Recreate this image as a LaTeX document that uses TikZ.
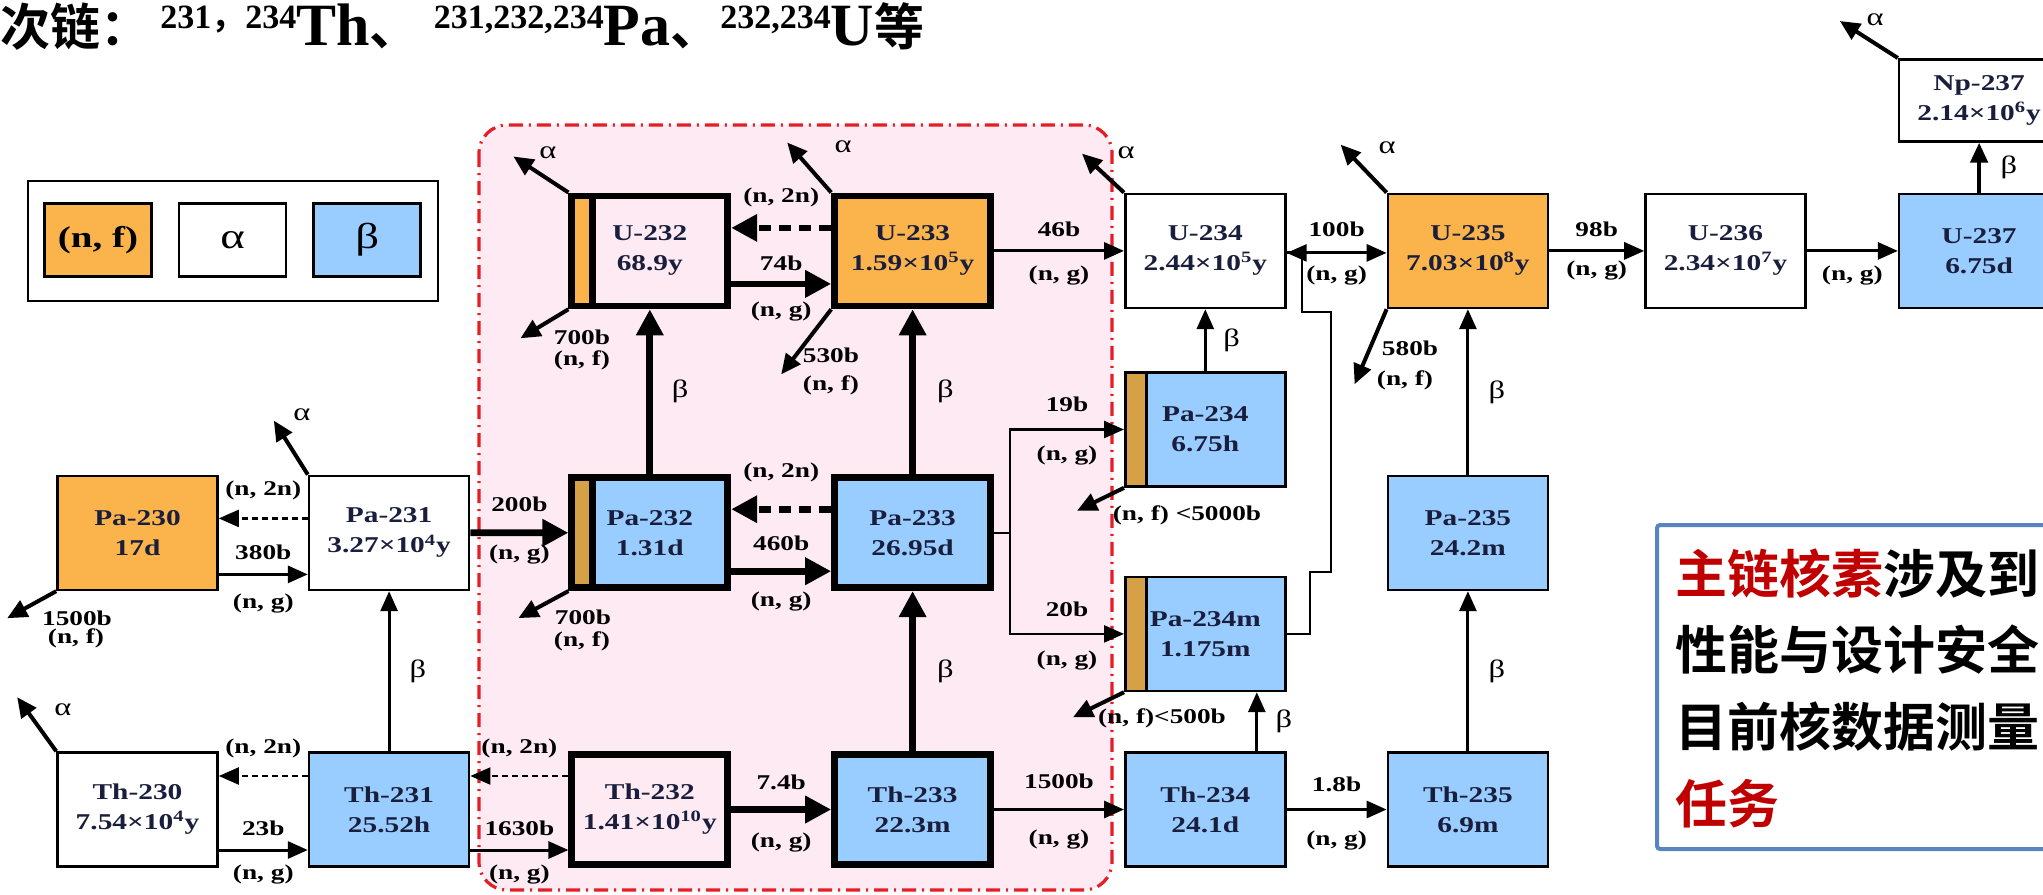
\documentclass[tikz,border=0pt]{standalone}
\usepackage{tikz}
\usepackage{xcolor}
\usepackage{fontspec}
\setmainfont{Liberation Serif}
\newfontfamily\wideserif{Liberation Serif}[FakeStretch=1.3]
\newfontfamily\cjkfont{Noto Sans CJK SC}[BoldFont={Noto Sans CJK SC Bold}]
\definecolor{nfOrange}{RGB}{250,180,75}
\definecolor{nfStrip}{RGB}{214,160,70}
\definecolor{betaBlue}{RGB}{153,204,255}
\definecolor{nucText}{RGB}{25,30,60}
\definecolor{zonePink}{RGB}{253,234,242}
\definecolor{zoneRed}{RGB}{228,30,38}
\definecolor{noteBlue}{RGB}{88,132,192}
\definecolor{noteRed}{RGB}{192,0,0}
\usetikzlibrary{arrows.meta,positioning}
\newcommand{\nucsup}[1]{\raisebox{8.5pt}{\fontsize{17}{17}\selectfont #1}}

\begin{document}
\begin{tikzpicture}[x=0.5pt, y=-0.5pt,
  nuc/.style={draw, line width=1.3pt, minimum width=80pt, minimum height=57pt,
              align=center, inner sep=1pt, text=nucText,
              font=\wideserif\bfseries\fontsize{11.3}{15}\selectfont},
  heavy/.style={line width=3.4pt, minimum width=78pt, minimum height=55pt},
  fis/.style={fill=nfOrange},
  bet/.style={fill=betaBlue},
  alp/.style={fill=white},
  strip/.style 2 args={path picture={
      \fill[#1] (path picture bounding box.north west)
        rectangle ([xshift=10.5pt]path picture bounding box.south west);
      \draw[line width=#2] ([xshift=10.5pt]path picture bounding box.north west)
        -- ([xshift=10.5pt]path picture bounding box.south west);}},
  rx/.style={-{Triangle[length=10pt, width=8.5pt]}, line width=1.5pt},
  rxh/.style={-{Triangle[length=13pt, width=13pt]}, line width=3.4pt},
  n2n/.style={rx, line width=1.1pt, dash pattern=on 3pt off 2pt},
  n2nh/.style={rxh, dash pattern=on 6pt off 4pt},
  decay/.style={-{Triangle[length=10pt, width=9pt]}, line width=2pt},
  lbl/.style={font=\wideserif\bfseries\fontsize{10.5}{12}\selectfont, inner sep=1pt},
  grk/.style={font=\wideserif\fontsize{12.5}{12.5}\selectfont, inner sep=1pt},
  key/.style={draw, line width=1.3pt, minimum width=53.5pt, minimum height=36.5pt},
  notetxt/.style={anchor=base west, inner sep=0, font=\cjkfont\bfseries\fontsize{26}{26}\selectfont}
]
  \useasboundingbox (0,0) rectangle (2043,894);
  \clip (0,0) rectangle (2043,894);

  % main chain zone
  \draw[zoneRed, fill=zonePink, line width=1.6pt, rounded corners=14pt,
        dash pattern=on 7pt off 3pt on 1pt off 3pt] (479,125) rectangle (1112,890);

  % legend
  \node[draw, line width=1pt, minimum width=205pt, minimum height=60pt] (legend) at (233,240.5) {};
  \node[key, fill=nfOrange, font=\wideserif\bfseries\fontsize{15}{15}\selectfont] (keynf) at (98,240) {(n, f)};
  \node[key, font=\wideserif\fontsize{18}{18}\selectfont, right=12.5pt of keynf] (keyal) {α};
  \node[key, fill=betaBlue, font=\wideserif\fontsize{18}{18}\selectfont, right=12.5pt of keyal] (keybt) {β};

  % nuclides
  \node[nuc, alp] (th230) at (137.5,809.5) {Th-230\\7.54×10\textsuperscript{4}y};
  \node[nuc, bet, right=44.5pt of th230] (th231) {Th-231\\25.52h};
  \node[nuc, heavy, right=49pt of th231] (th232) {Th-232\\1.41×10\textsuperscript{10}y};
  \node[nuc, heavy, bet, right=50pt of th232] (th233) {Th-233\\22.3m};
  \node[nuc, bet, right=65pt of th233] (th234) {Th-234\\24.1d};
  \node[nuc, bet, right=50pt of th234] (th235) {Th-235\\6.9m};

  \node[nuc, fis, above=80pt of th230] (pa230) {Pa-230\\17d};
  \node[nuc, alp, above=80pt of th231] (pa231) {Pa-231\\3.27×10\textsuperscript{4}y};
  \node[nuc, heavy, bet, strip={nfStrip}{3.4pt}, above=80pt of th232] (pa232) {Pa-232\\1.31d};
  \node[nuc, heavy, bet, above=80pt of th233] (pa233) {Pa-233\\26.95d};
  \node[nuc, bet, above=80pt of th235] (pa235) {Pa-235\\24.2m};
  \node[nuc, bet, strip={nfStrip}{1.3pt}, above=29.5pt of th234] (pa234m) {Pa-234m\\1.175m};

  \node[nuc, heavy, strip={nfOrange}{3.4pt}, above=82.5pt of pa232] (u232) {U-232\\68.9y};
  \node[nuc, heavy, fis, above=82.5pt of pa233] (u233) {U-233\\1.59×10\textsuperscript{5}y};
  \node[nuc, alp, right=65pt of u233] (u234) {U-234\\2.44×10\textsuperscript{5}y};
  \node[nuc, fis, right=50pt of u234] (u235) {U-235\\7.03×10\textsuperscript{8}y};
  \node[nuc, alp, right=47.5pt of u235] (u236) {U-236\\2.34×10\textsuperscript{7}y};
  \node[nuc, bet, right=45.5pt of u236] (u237) {U-237\\6.75d};
  \node[nuc, alp, minimum height=41pt, above=25pt of u237] (np237) {Np-237\\2.14×10\textsuperscript{6}y};
  \node[nuc, bet, strip={nfStrip}{1.3pt}, below=31pt of u234] (pa234) {Pa-234\\6.75h};

  % Th row
  \draw[n2n] ([yshift=16.75pt]th231.west) -- node[lbl, above=7.5pt] {(n, 2n)} ([yshift=16.75pt]th230.east);
  \draw[rx] ([yshift=-20.25pt]th230.east) -- node[lbl, above=5.5pt] {23b} node[lbl, below=5.5pt] {(n, g)} ([yshift=-20.25pt]th231.west);
  \draw[n2n] ([yshift=16.75pt]th232.west) -- node[lbl, above=7.5pt] {(n, 2n)} ([yshift=16.75pt]th231.east);
  \draw[rx] ([yshift=-20.25pt]th231.east) -- node[lbl, above=5.5pt] {1630b} node[lbl, below=5.5pt] {(n, g)} ([yshift=-20.25pt]th232.west);
  \draw[rxh] (th232) -- node[lbl, above=7pt] {7.4b} node[lbl, below=9pt] {(n, g)} (th233);
  \draw[rx] (th233) -- node[lbl, above=8.5pt] {1500b} node[lbl, below=8.5pt] {(n, g)} (th234);
  \draw[rx] (th234) -- node[lbl, above=7pt] {1.8b} node[lbl, below=9pt] {(n, g)} (th235);

  % Pa row
  \draw[n2n] ([yshift=7.25pt]pa231.west) -- node[lbl, above=7.5pt] {(n, 2n)} ([yshift=7.25pt]pa230.east);
  \draw[rx] ([yshift=-20.75pt]pa230.east) -- node[lbl, above=5.5pt] {380b} node[lbl, below=8pt] {(n, g)} ([yshift=-20.75pt]pa231.west);
  \draw[rxh] (pa231) -- node[lbl, above=8pt] {200b} node[lbl, below=3.5pt] {(n, g)} (pa232);
  \draw[n2nh] ([yshift=11.75pt]pa233.west) -- node[lbl, above=11pt] {(n, 2n)} ([yshift=11.75pt]pa232.east);
  \draw[rxh] ([yshift=-19.25pt]pa232.east) -- node[lbl, above=7.5pt] {460b} node[lbl, below=7.5pt] {(n, g)} ([yshift=-19.25pt]pa233.west);
  \coordinate (fork) at ([xshift=8pt]pa233.east);
  \draw[rx, line width=1.2pt] (pa233.east) -- (fork) |- node[lbl, pos=0.75, above=7.5pt] {19b} node[lbl, pos=0.75, below=6.5pt] {(n, g)} (pa234.west);
  \draw[rx, line width=1.2pt] (fork) |- node[lbl, pos=0.75, above=7pt] {20b} node[lbl, pos=0.75, below=7pt] {(n, g)} (pa234m.west);

  % U row
  \draw[n2nh] ([yshift=11.5pt]u233.west) -- node[lbl, above=8pt] {(n, 2n)} ([yshift=11.5pt]u232.east);
  \draw[rxh] ([yshift=-16.5pt]u232.east) -- node[lbl, above=4pt] {74b} node[lbl, below=6.5pt] {(n, g)} ([yshift=-16.5pt]u233.west);
  \draw[rx] (u233) -- node[lbl, above=5.5pt] {46b} node[lbl, below=6pt] {(n, g)} (u234);
  \draw[rx] ([yshift=-1pt]u234.east) -- node[lbl, above=6.5pt] {100b} node[lbl, below=5pt] {(n, g)} ([yshift=-1pt]u235.west);
  \draw[rx] (u235) -- node[lbl, above=5.5pt] {98b} node[lbl, below=3.5pt] {(n, g)} (u236);
  \draw[rx] (u236) -- node[lbl, below=6pt] {(n, g)} (u237);

  % Pa-234m back to U-234
  \coordinate (jog1) at (1310,572);
  \coordinate (jog2) at (1331,312);
  \coordinate (jog3) at (1302,312);
  \draw[rx, line width=1.1pt] (pa234m.east) -| (jog1) -| (jog2) -| (jog3) |- ([yshift=-1pt]u234.east);

  % beta decays
  \draw[rx] (th231) -- node[grk, right=8.5pt] {β} (pa231);
  \draw[rxh] (pa232) -- node[grk, right=8.3pt] {β} (u232);
  \draw[rxh] (pa233) -- node[grk, right=9.6pt] {β} (u233);
  \draw[rxh] (th233) -- node[grk, right=9.6pt] {β} (pa233);
  \draw[rx] (pa234) -- node[grk, right=7.3pt] {β} (u234);
  \draw[rx] ([xshift=25.75pt]th234.north) -- node[grk, right=7.6pt] {β} ([xshift=25.75pt]pa234m.south);
  \draw[rx] (pa235) -- node[grk, right=8.6pt] {β} (u235);
  \draw[rx] (th235) -- node[grk, right=8.6pt] {β} (pa235);
  \draw[rx, line width=2.2pt] (u237) -- node[grk, right=8.6pt] {β} (np237);

  % alpha decays
  \coordinate (th230a) at ([shift={(-19.5pt,27pt)}]th230.north west);
  \coordinate (pa231a) at ([shift={(-17pt,27pt)}]pa231.north west);
  \coordinate (u232a) at ([shift={(-27.5pt,18pt)}]u232.north west);
  \coordinate (u233a) at ([shift={(-22pt,25pt)}]u233.north west);
  \coordinate (u234a) at ([shift={(-21pt,19.5pt)}]u234.north west);
  \coordinate (u235a) at ([shift={(-23pt,24pt)}]u235.north west);
  \coordinate (np237a) at ([shift={(-29pt,18.5pt)}]np237.north west);
  \draw[decay] (th230.north west) -- (th230a);
  \draw[decay] (pa231.north west) -- (pa231a);
  \draw[decay] (u232.north west) -- (u232a);
  \draw[decay] (u233.north west) -- (u233a);
  \draw[decay] (u234.north west) -- (u234a);
  \draw[decay] (u235.north west) -- (u235a);
  \draw[decay] (np237.north west) -- (np237a);
  \node[grk] (th230al) at (63,710) {α};
  \node[grk] (pa231al) at (302,415) {α};
  \node[grk] (u232al) at (548,153) {α};
  \node[grk] (u233al) at (843,147) {α};
  \node[grk] (u234al) at (1126,153) {α};
  \node[grk] (u235al) at (1387,148) {α};
  \node[grk] (np237al) at (1875,20) {α};

  % fission
  \coordinate (pa230f) at ([shift={(-24.5pt,-13.5pt)}]pa230.south west);
  \coordinate (u232f) at ([shift={(-24pt,-14.5pt)}]u232.south west);
  \coordinate (pa232f) at ([shift={(-25pt,-13.5pt)}]pa232.south west);
  \coordinate (u233f) at ([shift={(-25pt,-32.5pt)}]u233.south west);
  \coordinate (u235f) at ([shift={(-16pt,-37.5pt)}]u235.south west);
  \coordinate (pa234f) at ([shift={(-23.5pt,-11.5pt)}]pa234.south west);
  \coordinate (pa234mf) at ([shift={(-25.5pt,-12.5pt)}]pa234m.south west);
  \draw[decay] (pa230.south west) -- (pa230f);
  \draw[decay] (u232.south west) -- (u232f);
  \draw[decay] (pa232.south west) -- (pa232f);
  \draw[decay] (u233.south west) -- (u233f);
  \draw[decay] (u235.south west) -- (u235f);
  \draw[decay] (pa234.south west) -- (pa234f);
  \draw[decay] (pa234m.south west) -- (pa234mf);
  \node[lbl] (pa230b) at (77,618) {1500b};
  \node[lbl] (pa230r) at (76,638) {(n, f)};
  \node[lbl] (u232b) at (582,337) {700b};
  \node[lbl] (u232r) at (582,360) {(n, f)};
  \node[lbl] (pa232b) at (583,617) {700b};
  \node[lbl] (pa232r) at (582,641) {(n, f)};
  \node[lbl] (u233b) at (831,355) {530b};
  \node[lbl] (u233r) at (831,385) {(n, f)};
  \node[lbl] (u235b) at (1410,348) {580b};
  \node[lbl] (u235r) at (1405,380) {(n, f)};
  \node[lbl] (pa234r) at (1187,515) {(n, f) <5000b};
  \node[lbl] (pa234mr) at (1162,718) {(n, f)<500b};

  % title
  \node[anchor=base west, inner sep=0] (title) at (0,45)
    {{\cjkfont\bfseries\fontsize{25}{25}\selectfont 次链：}\hspace{5pt}%
     {\bfseries\fontsize{30}{30}\selectfont
      \nucsup{231{\cjkfont ，}234}Th{\cjkfont\fontsize{25}{25}\selectfont 、}\hspace{7pt}%
      \nucsup{231,232,234}Pa{\cjkfont\fontsize{25}{25}\selectfont 、}%
      \nucsup{232,234}U{\cjkfont\fontsize{25}{25}\selectfont 等}}};

  % note
  \node[draw=noteBlue, line width=2pt, rounded corners=1.5pt, minimum width=220pt,
        minimum height=162pt, anchor=north west] (note) at (1655,523) {};
  \node[notetxt] (note1) at (1675,593) {\textcolor{noteRed}{主链核素}涉及到};
  \node[notetxt] (note2) at (1675,669) {性能与设计安全};
  \node[notetxt] (note3) at (1675,746) {目前核数据测量};
  \node[notetxt] (note4) at (1675,823) {\textcolor{noteRed}{任务}};
\end{tikzpicture}
\end{document}
